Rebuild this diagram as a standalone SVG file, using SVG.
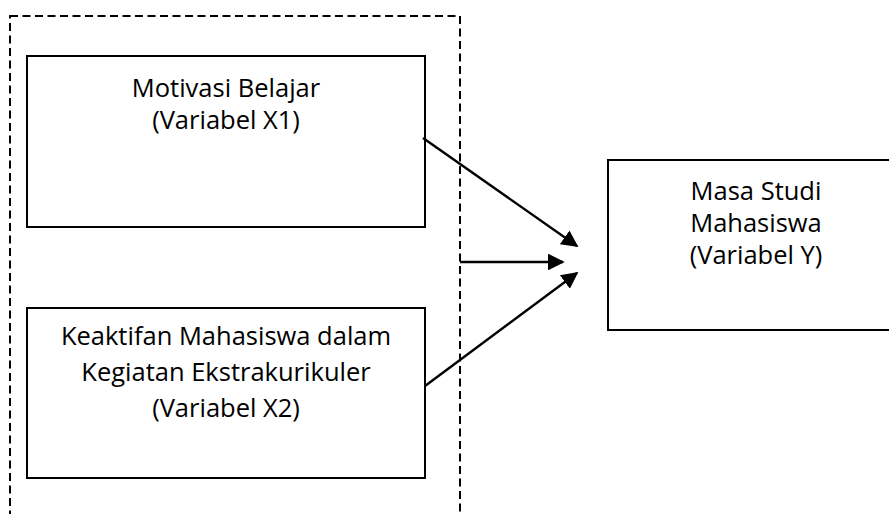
<svg xmlns="http://www.w3.org/2000/svg" width="889" height="514" viewBox="0 0 889 514">
<defs>
<style>
.box{fill:#fff;stroke:#000;stroke-width:2}
.grp{fill:none;stroke:#000;stroke-width:2;stroke-dasharray:8 4.5}
.t{font-family:"Open Sans","Noto Sans",sans-serif;font-size:25.5px;fill:#000;text-anchor:middle}
.c{stroke:#000;stroke-width:2.4;fill:none;marker-end:url(#ah)}
</style>
<marker id="ah" viewBox="0 0 10 10" refX="9" refY="5" markerWidth="7" markerHeight="7" markerUnits="strokeWidth" orient="auto">
<path d="M0,0 L10,5 L0,10 z" fill="#000"/>
</marker>
</defs>
<rect class="grp" x="10" y="16" width="450" height="520"/>
<g id="x1">
<rect class="box" x="27" y="56" width="398" height="171"/>
<text class="t" x="226" y="97">Motivasi Belajar</text>
<text class="t" x="226" y="129">(Variabel X1)</text>
</g>
<g id="x2">
<rect class="box" x="27" y="308" width="398" height="170"/>
<text class="t" x="226" y="345">Keaktifan Mahasiswa dalam</text>
<text class="t" x="226" y="381">Kegiatan Ekstrakurikuler</text>
<text class="t" x="226" y="417">(Variabel X2)</text>
</g>
<g id="y">
<rect class="box" x="608" y="160" width="300" height="170"/>
<text class="t" x="756" y="200">Masa Studi</text>
<text class="t" x="756" y="232">Mahasiswa</text>
<text class="t" x="756" y="264">(Variabel Y)</text>
</g>
<g id="connectors">
<line class="c" x1="423" y1="138" x2="577" y2="246"/>
<line class="c" x1="460" y1="262" x2="563" y2="262"/>
<line class="c" x1="425" y1="386" x2="577" y2="273"/>
</g>
</svg>
